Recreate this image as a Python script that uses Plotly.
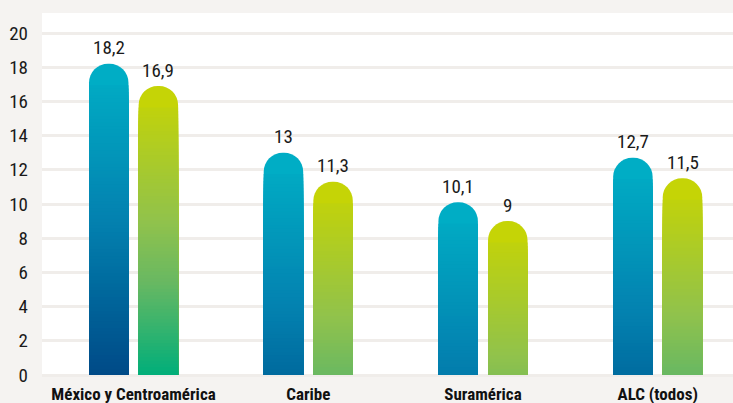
import plotly.graph_objects as go

# ---- data ----
categories = ["México y Centroamérica", "Caribe", "Suramérica", "ALC (todos)"]
serie_azul = [18.2, 13, 10.1, 12.7]
serie_verde = [16.9, 11.3, 9, 11.5]
y_ticks = [0, 2, 4, 6, 8, 10, 12, 14, 16, 18, 20]

# ---- style ----
FONT = "Liberation Sans Narrow, Roboto Condensed, Roboto, sans-serif"
W = 0.226
OFF_A = -0.255
OFF_B = 0.029
CAP = 1.25
STEP = 0.2
blue_stops = [(0, "#00b0c6"), (9, "#0382b0"), (13, "#006a9e"), (18.2, "#004a87")]
green_stops = [(0, "#c9d500"), (8, "#90c24c"), (11.5, "#68b862"), (16.9, "#00ae7a")]


def hex2rgb(h):
    h = h.lstrip("#")
    return [int(h[i:i + 2], 16) for i in (0, 2, 4)]


def color_at(stops, d):
    if d <= stops[0][0]:
        return stops[0][1]
    for (d0, c0), (d1, c1) in zip(stops[:-1], stops[1:]):
        if d0 <= d <= d1:
            t = (d - d0) / (d1 - d0)
            a, b = hex2rgb(c0), hex2rgb(c1)
            r = [round(a[k] + (b[k] - a[k]) * t) for k in range(3)]
            return "rgb(%d,%d,%d)" % tuple(r)
    return stops[-1][1]


fig = go.Figure()
xs = list(range(len(categories)))


def add_series(values, stops, offset):
    fig.add_bar(x=xs, y=values, base=0, width=W, offset=offset,
                marker=dict(color=color_at(stops, 0.6), cornerradius="50%", line_width=0),
                hoverinfo="skip")
    d = CAP
    while d < max(values):
        ys = [max(v - d, 0) for v in values]
        fig.add_bar(x=xs, y=ys, base=0, width=W, offset=offset,
                    marker=dict(color=color_at(stops, d + STEP / 2), line_width=0),
                    hoverinfo="skip")
        d += STEP


add_series(serie_azul, blue_stops, OFF_A)
add_series(serie_verde, green_stops, OFF_B)


def fmt(v):
    return ("%g" % v).replace(".", ",")


annotations = []
for values, off in ((serie_azul, OFF_A), (serie_verde, OFF_B)):
    for i, v in enumerate(values):
        annotations.append(dict(x=i + off + W / 2, y=v, text=fmt(v), showarrow=False,
                                yshift=16, font=dict(family=FONT, size=19, color="#1a1a1a")))

fig.update_layout(
    width=733, height=403,
    margin=dict(l=42, r=0, t=13, b=26),
    paper_bgcolor="#f5f3f1",
    plot_bgcolor="#ffffff",
    barmode="overlay",
    showlegend=False,
    annotations=annotations,
    xaxis=dict(range=[-0.524, 3.431], tickmode="array", tickvals=xs, ticktext=categories,
               showgrid=False, zeroline=False, ticks="", ticklabelstandoff=5,
               tickfont=dict(family=FONT, size=17, color="#111111", weight=700)),
    yaxis=dict(range=[-0.117, 21.17], tickmode="array", tickvals=y_ticks,
               showgrid=True, gridcolor="#f0edea", gridwidth=3, zeroline=False,
               ticks="", ticklabelstandoff=13,
               tickfont=dict(family=FONT, size=19, color="#1a1a1a")),
)

fig.write_html("out.html")
